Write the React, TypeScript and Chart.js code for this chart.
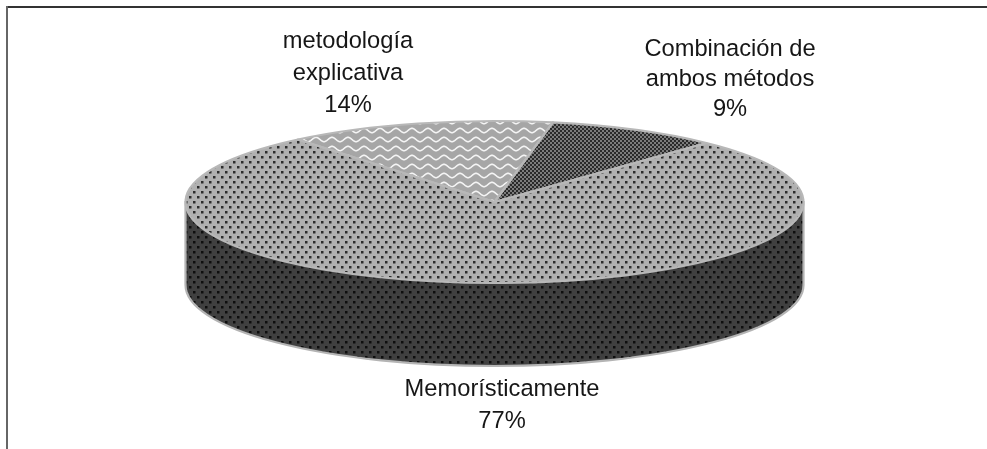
import React, { useEffect, useRef } from "react";
import { Chart, registerables } from "chart.js";

Chart.register(...registerables);

const categories = ["metodología explicativa", "Combinación de ambos métodos", "Memorísticamente"];
const values = [14, 9, 77];
const labelLines = [
  ["metodología", "explicativa", "14%"],
  ["Combinación de", "ambos métodos", "9%"],
  ["Memorísticamente", "77%"],
];

const W = 987;
const H = 449;
const CX = 494.5;
const CY = 202;
const RX = 309;
const RY = 81;
const DEPTH = 83;
const ROTATION = -39.5;
const LABEL_POS = [
  { x: 348, y: 48, lh: 32 },
  { x: 730, y: 56, lh: 30 },
  { x: 502, y: 396, lh: 32 },
];
const FONT = '23.7px "Liberation Sans", Arial, sans-serif';

function makePattern(w: number, h: number, paint: (c: CanvasRenderingContext2D) => void): CanvasPattern {
  const off = document.createElement("canvas");
  off.width = w;
  off.height = h;
  const c = off.getContext("2d")!;
  paint(c);
  return c.createPattern(off, "repeat")!;
}

const dots = (bg: string, dot: string) => (c: CanvasRenderingContext2D) => {
  c.fillStyle = bg;
  c.fillRect(0, 0, 8, 10);
  c.fillStyle = dot;
  c.fillRect(1, 1, 2.5, 2.5);
  c.fillRect(5, 6, 2.5, 2.5);
};

export default function App() {
  const ref = useRef<HTMLCanvasElement>(null);
  useEffect(() => {
    const topDots = makePattern(8, 10, dots("#b0b0b0", "#2c2c2c"));
    const rimDots = makePattern(8, 10, dots("#404040", "#0e0e0e"));
    const checker = makePattern(4, 4, (c) => {
      c.fillStyle = "#2a2a2a";
      c.fillRect(0, 0, 4, 4);
      c.fillStyle = "#7c7c7c";
      c.fillRect(0, 0, 2, 2);
      c.fillRect(2, 2, 2, 2);
    });
    const waves = makePattern(16, 9, (c) => {
      c.fillStyle = "#a6a6a6";
      c.fillRect(0, 0, 16, 9);
      c.strokeStyle = "#f4f4f4";
      c.lineWidth = 1.6;
      c.beginPath();
      for (let x = -1; x <= 17; x += 0.5) {
        const y = 4.5 + 2.2 * Math.sin((x / 16) * 2 * Math.PI);
        if (x === -1) c.moveTo(x, y);
        else c.lineTo(x, y);
      }
      c.stroke();
    });
    const fills = [waves, checker, topDots];

    const pie3d = {
      id: "pie3d",
      beforeDraw(chart: Chart) {
        const c = chart.ctx;
        c.save();
        c.fillStyle = "#fff";
        c.fillRect(0, 0, W, H);
        c.fillStyle = "#333";
        c.fillRect(6, 6, W - 6, 2);
        c.fillStyle = "#666";
        c.fillRect(6, 6, 2, H - 6);
        c.restore();
      },
      beforeDatasetsDraw(chart: Chart) {
        const c = chart.ctx;
        const arc: any = chart.getDatasetMeta(0).data[0];
        // side wall of the cylinder
        c.save();
        c.beginPath();
        c.moveTo(CX - RX, CY);
        c.lineTo(CX - RX, CY + DEPTH);
        c.ellipse(CX, CY + DEPTH, RX, RY, 0, Math.PI, 0, true);
        c.lineTo(CX + RX, CY);
        c.closePath();
        c.fillStyle = rimDots;
        c.fill();
        c.strokeStyle = "#b4b4b4";
        c.lineWidth = 2.2;
        c.stroke();
        c.restore();
        // flatten the pie into the top face of the cylinder
        c.save();
        c.translate(CX, CY);
        c.scale(RX / arc.outerRadius, RY / arc.outerRadius);
        c.translate(-arc.x, -arc.y);
        const inv = c.getTransform().inverse();
        fills.forEach((p) => p.setTransform(inv));
      },
      afterDatasetsDraw(chart: Chart) {
        const c = chart.ctx;
        c.restore();
        const sx = RX / (chart.getDatasetMeta(0).data[0] as any).outerRadius;
        const sy = RY / (chart.getDatasetMeta(0).data[0] as any).outerRadius;
        chart.getDatasetMeta(0).data.forEach((el: any) => {
          c.save();
          c.save();
          c.translate(CX, CY);
          c.scale(sx, sy);
          c.translate(-el.x, -el.y);
          c.beginPath();
          c.moveTo(el.x, el.y);
          c.arc(el.x, el.y, el.outerRadius, el.startAngle, el.endAngle);
          c.closePath();
          c.restore();
          c.strokeStyle = "#b8b8b8";
          c.lineWidth = 2.2;
          c.lineJoin = "round";
          c.stroke();
          c.restore();
        });
        c.save();
        c.font = FONT;
        c.fillStyle = "#161616";
        c.textAlign = "center";
        c.textBaseline = "alphabetic";
        labelLines.forEach((lines, i) => {
          const p = LABEL_POS[i];
          lines.forEach((t, j) => c.fillText(t, p.x, p.y + j * p.lh));
        });
        c.restore();
      },
    };

    const chart = new Chart(ref.current!, {
      type: "pie",
      data: {
        labels: categories,
        datasets: [{ data: values, backgroundColor: fills as any, borderWidth: 0 }],
      },
      options: {
        responsive: false,
        animation: false,
        rotation: ROTATION,
        events: [],
        plugins: { legend: { display: false }, tooltip: { enabled: false } },
      },
      plugins: [pie3d],
    } as any);
    return () => chart.destroy();
  }, []);
  return (
    <div style={{ position: "absolute", left: 0, top: 0, width: W, height: H }}>
      <canvas ref={ref} width={W} height={H} style={{ display: "block", filter: "blur(0.4px)" }} />
    </div>
  );
}
